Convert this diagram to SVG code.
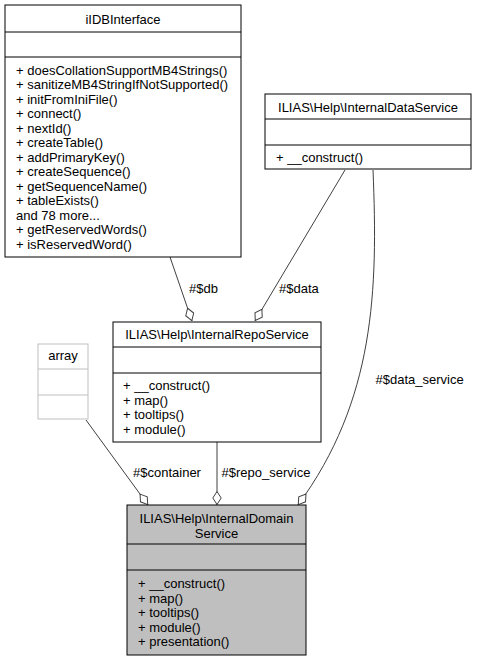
<svg xmlns="http://www.w3.org/2000/svg" width="477" height="661" viewBox="0 0 477 661">
<style>
text{font-family:"Liberation Sans",Arial,Helvetica,sans-serif;font-size:13px;fill:#000}
.c{text-anchor:middle}
.box{fill:#fff;stroke:#000;stroke-width:1}
.gray{fill:#fff;stroke:#bfbfbf;stroke-width:1}
.cur{fill:#bfbfbf;stroke:#000;stroke-width:1}
.sep{stroke:#000;stroke-width:1}
.sepg{stroke:#bfbfbf;stroke-width:1}
.edge{fill:none;stroke:#404040;stroke-width:1;marker-end:url(#dia)}
</style>
<defs>
<marker id="dia" viewBox="0 0 14 10" markerUnits="userSpaceOnUse" markerWidth="14" markerHeight="10" refX="14" refY="5" orient="auto">
<path d="M0.5,5 L7,0.8 L13.5,5 L7,9.2 Z" fill="#fff" stroke="#404040" stroke-width="1"/>
</marker>
</defs>
<g id="connectors">
<path class="edge" d="M170,257 L192,321"/>
<path class="edge" d="M345,170 L255,321"/>
<path class="edge" d="M217,442 L217,505"/>
<path class="edge" d="M86,420 L148,505"/>
<path class="edge" d="M373,170 C378,290 375,400 298,505"/>
<text x="189" y="292.5">#$db</text>
<text x="279" y="293">#$data</text>
<text x="375.5" y="384">#$data_service</text>
<text x="133" y="477">#$container</text>
<text x="221.5" y="477">#$repo_service</text>
</g>
<g id="iIDBInterface">
<rect class="box" x="5" y="5" width="236" height="252"/>
<line class="sep" x1="5" y1="32" x2="241" y2="32"/>
<line class="sep" x1="5" y1="57" x2="241" y2="57"/>
<text class="c" x="123" y="24">iIDBInterface</text>
<text x="16" y="74.5">+ doesCollationSupportMB4Strings()</text>
<text x="16" y="89">+ sanitizeMB4StringIfNotSupported()</text>
<text x="16" y="103.5">+ initFromIniFile()</text>
<text x="16" y="118">+ connect()</text>
<text x="16" y="132.5">+ nextId()</text>
<text x="16" y="147">+ createTable()</text>
<text x="16" y="161.5">+ addPrimaryKey()</text>
<text x="16" y="176">+ createSequence()</text>
<text x="16" y="190.5">+ getSequenceName()</text>
<text x="16" y="205">+ tableExists()</text>
<text x="16" y="219.5">and 78 more...</text>
<text x="16" y="234">+ getReservedWords()</text>
<text x="16" y="248.5">+ isReservedWord()</text>
</g>
<g id="InternalDataService">
<rect class="box" x="265" y="94" width="206" height="75"/>
<line class="sep" x1="265" y1="119" x2="471" y2="119"/>
<line class="sep" x1="265" y1="145" x2="471" y2="145"/>
<text class="c" x="368" y="111.5">ILIAS\Help\InternalDataService</text>
<text x="276" y="162">+ __construct()</text>
</g>
<g id="InternalRepoService">
<rect class="box" x="113" y="322" width="208" height="120"/>
<line class="sep" x1="113" y1="347" x2="321" y2="347"/>
<line class="sep" x1="113" y1="373" x2="321" y2="373"/>
<text class="c" x="217" y="338.5">ILIAS\Help\InternalRepoService</text>
<text x="123" y="390">+ __construct()</text>
<text x="123" y="404.5">+ map()</text>
<text x="123" y="419">+ tooltips()</text>
<text x="123" y="433.5">+ module()</text>
</g>
<g id="array">
<rect class="gray" x="38" y="344" width="50" height="75"/>
<line class="sepg" x1="38" y1="369" x2="88" y2="369"/>
<line class="sepg" x1="38" y1="395" x2="88" y2="395"/>
<text class="c" x="63" y="360">array</text>
</g>
<g id="InternalDomainService">
<rect class="cur" x="127" y="505" width="179" height="150"/>
<line class="sep" x1="127" y1="544" x2="306" y2="544"/>
<line class="sep" x1="127" y1="570" x2="306" y2="570"/>
<text class="c" x="216.5" y="522.5">ILIAS\Help\InternalDomain</text>
<text class="c" x="216.5" y="537.5">Service</text>
<text x="138" y="588">+ __construct()</text>
<text x="138" y="602.5">+ map()</text>
<text x="138" y="617">+ tooltips()</text>
<text x="138" y="631.5">+ module()</text>
<text x="138" y="646">+ presentation()</text>
</g>
</svg>
